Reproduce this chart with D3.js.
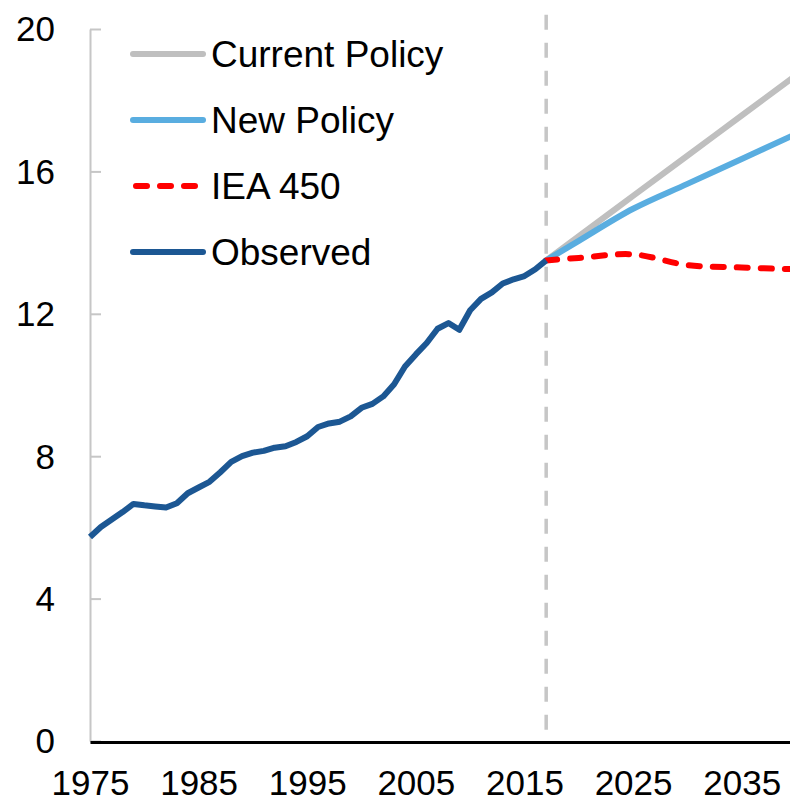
<!DOCTYPE html>
<html>
<head>
<meta charset="utf-8">
<script src="https://cdn.jsdelivr.net/npm/d3@7"></script>
<style>
  body { margin: 0; background: #fff; }
  text { font-family: "Liberation Sans", Arial, sans-serif; fill: #000; }
</style>
</head>
<body>
<svg id="chart" width="790" height="802"></svg>
<script>
// observed series, one value per year
var observedYears = [1975, 1976, 1977, 1978, 1979, 1980, 1981, 1982, 1983, 1984,
  1985, 1986, 1987, 1988, 1989, 1990, 1991, 1992, 1993, 1994,
  1995, 1996, 1997, 1998, 1999, 2000, 2001, 2002, 2003, 2004,
  2005, 2006, 2007, 2008, 2009, 2010, 2011, 2012, 2013, 2014,
  2015, 2016, 2017];
var observed = [5.73, 6.01, 6.22, 6.43, 6.66, 6.62, 6.59, 6.56, 6.68, 6.96,
  7.12, 7.28, 7.55, 7.84, 8.0, 8.1, 8.15, 8.24, 8.28, 8.4,
  8.56, 8.82, 8.92, 8.97, 9.12, 9.36, 9.47, 9.68, 10.02, 10.52,
  10.86, 11.18, 11.58, 11.74, 11.55, 12.1, 12.42, 12.6, 12.85, 12.97,
  13.06, 13.25, 13.5];

// scenario projections
var projYears = [2017, 2020, 2025, 2030, 2035, 2040];
var currentPolicy = [13.5, 14.18, 15.31, 16.44, 17.57, 18.7];
var newPolicy = [13.5, 14.05, 14.95, 15.65, 16.35, 17.05];
var iea450 = [13.5, 13.57, 13.67, 13.37, 13.3, 13.25];

var xTicks = [1975, 1985, 1995, 2005, 2015, 2025, 2035];
var yTicks = [0, 4, 8, 12, 16, 20];
var markerYear = 2017;
var markerTop = 20.4;

var legendNames = ["Current Policy", "New Policy", "IEA 450", "Observed"];

var svg = d3.select("#chart");

var x = d3.scaleLinear().domain([1975, 2040]).range([90, 796]),
    y = d3.scaleLinear().domain([0, 20]).range([741, 29]);

var series = [
  {id: "Current Policy", years: projYears, values: currentPolicy, color: "#bfbfbf", dash: null, curve: d3.curveCatmullRom},
  {id: "New Policy", years: projYears, values: newPolicy, color: "#59ade0", dash: null, curve: d3.curveCatmullRom},
  {id: "IEA 450", years: projYears, values: iea450, color: "#ff0000", dash: "11,13", curve: d3.curveCatmullRom},
  {id: "Observed", years: observedYears, values: observed, color: "#1c5793", dash: null, curve: d3.curveLinear}
];

function seriesFor(name) {
  return series.find(function(s) { return s.id === name; });
}

//y axis, grey with ticks pointing into the plot
var yAxis = svg.append("g")
    .attr("transform", "translate(" + x(1975) + ",0)")
    .call(d3.axisLeft(y).tickValues(yTicks).tickSizeInner(-11).tickSizeOuter(0).tickPadding(35));
yAxis.select(".domain").attr("stroke", "#c6c6c6").attr("stroke-width", 2);
yAxis.selectAll(".tick line").attr("stroke", "#c6c6c6").attr("stroke-width", 2);
yAxis.selectAll(".tick text")
    .style("font-size", "35px")
    .attr("dy", "0.34em");

// vertical marker for last observed year
svg.append("line")
    .attr("x1", x(markerYear)).attr("x2", x(markerYear))
    .attr("y1", y(markerTop)).attr("y2", y(0))
    .attr("stroke", "#c6c6c6")
    .attr("stroke-width", 3.5)
    .attr("stroke-dasharray", "15,13");

var line = d3.line()
    .x(function(d) { return x(d.year); })
    .y(function(d) { return y(d.value); });

series.forEach(function(s) {
  var pts = s.years.map(function(yr, i) { return {year: yr, value: s.values[i]}; });
  svg.append("path")
      .attr("d", line.curve(s.curve)(pts))
      .attr("fill", "none")
      .attr("stroke", s.color)
      .attr("stroke-width", 6)
      .attr("stroke-linejoin", "round")
      .attr("stroke-linecap", s.dash ? "round" : "butt")
      .attr("stroke-dasharray", s.dash);
});

//x axis, black baseline with labels only
var xAxis = svg.append("g")
    .attr("transform", "translate(0," + (y(0) + 1) + ")")
    .call(d3.axisBottom(x).tickValues(xTicks).tickFormat(d3.format("d")).tickSize(0).tickPadding(28));
xAxis.select(".domain").attr("stroke", "#000").attr("stroke-width", 3);
xAxis.selectAll(".tick text").style("font-size", "35px");

// legend
var legend = svg.append("g").attr("transform", "translate(133,54)");
var leg = legend.selectAll("g")
    .data(legendNames)
    .enter().append("g")
      .attr("transform", function(d, i) { return "translate(0," + (i * 66) + ")"; });

leg.append("line")
    .attr("x1", function(d) { return seriesFor(d).dash ? 3 : 0; })
    .attr("x2", 70)
    .attr("stroke", function(d) { return seriesFor(d).color; })
    .attr("stroke-width", 6)
    .attr("stroke-linecap", "round")
    .attr("stroke-dasharray", function(d) { return seriesFor(d).dash; });

leg.append("text")
    .attr("x", 78)
    .attr("y", 13)
    .style("font-size", "37px")
    .text(function(d) { return d; });
</script>
</body>
</html>
